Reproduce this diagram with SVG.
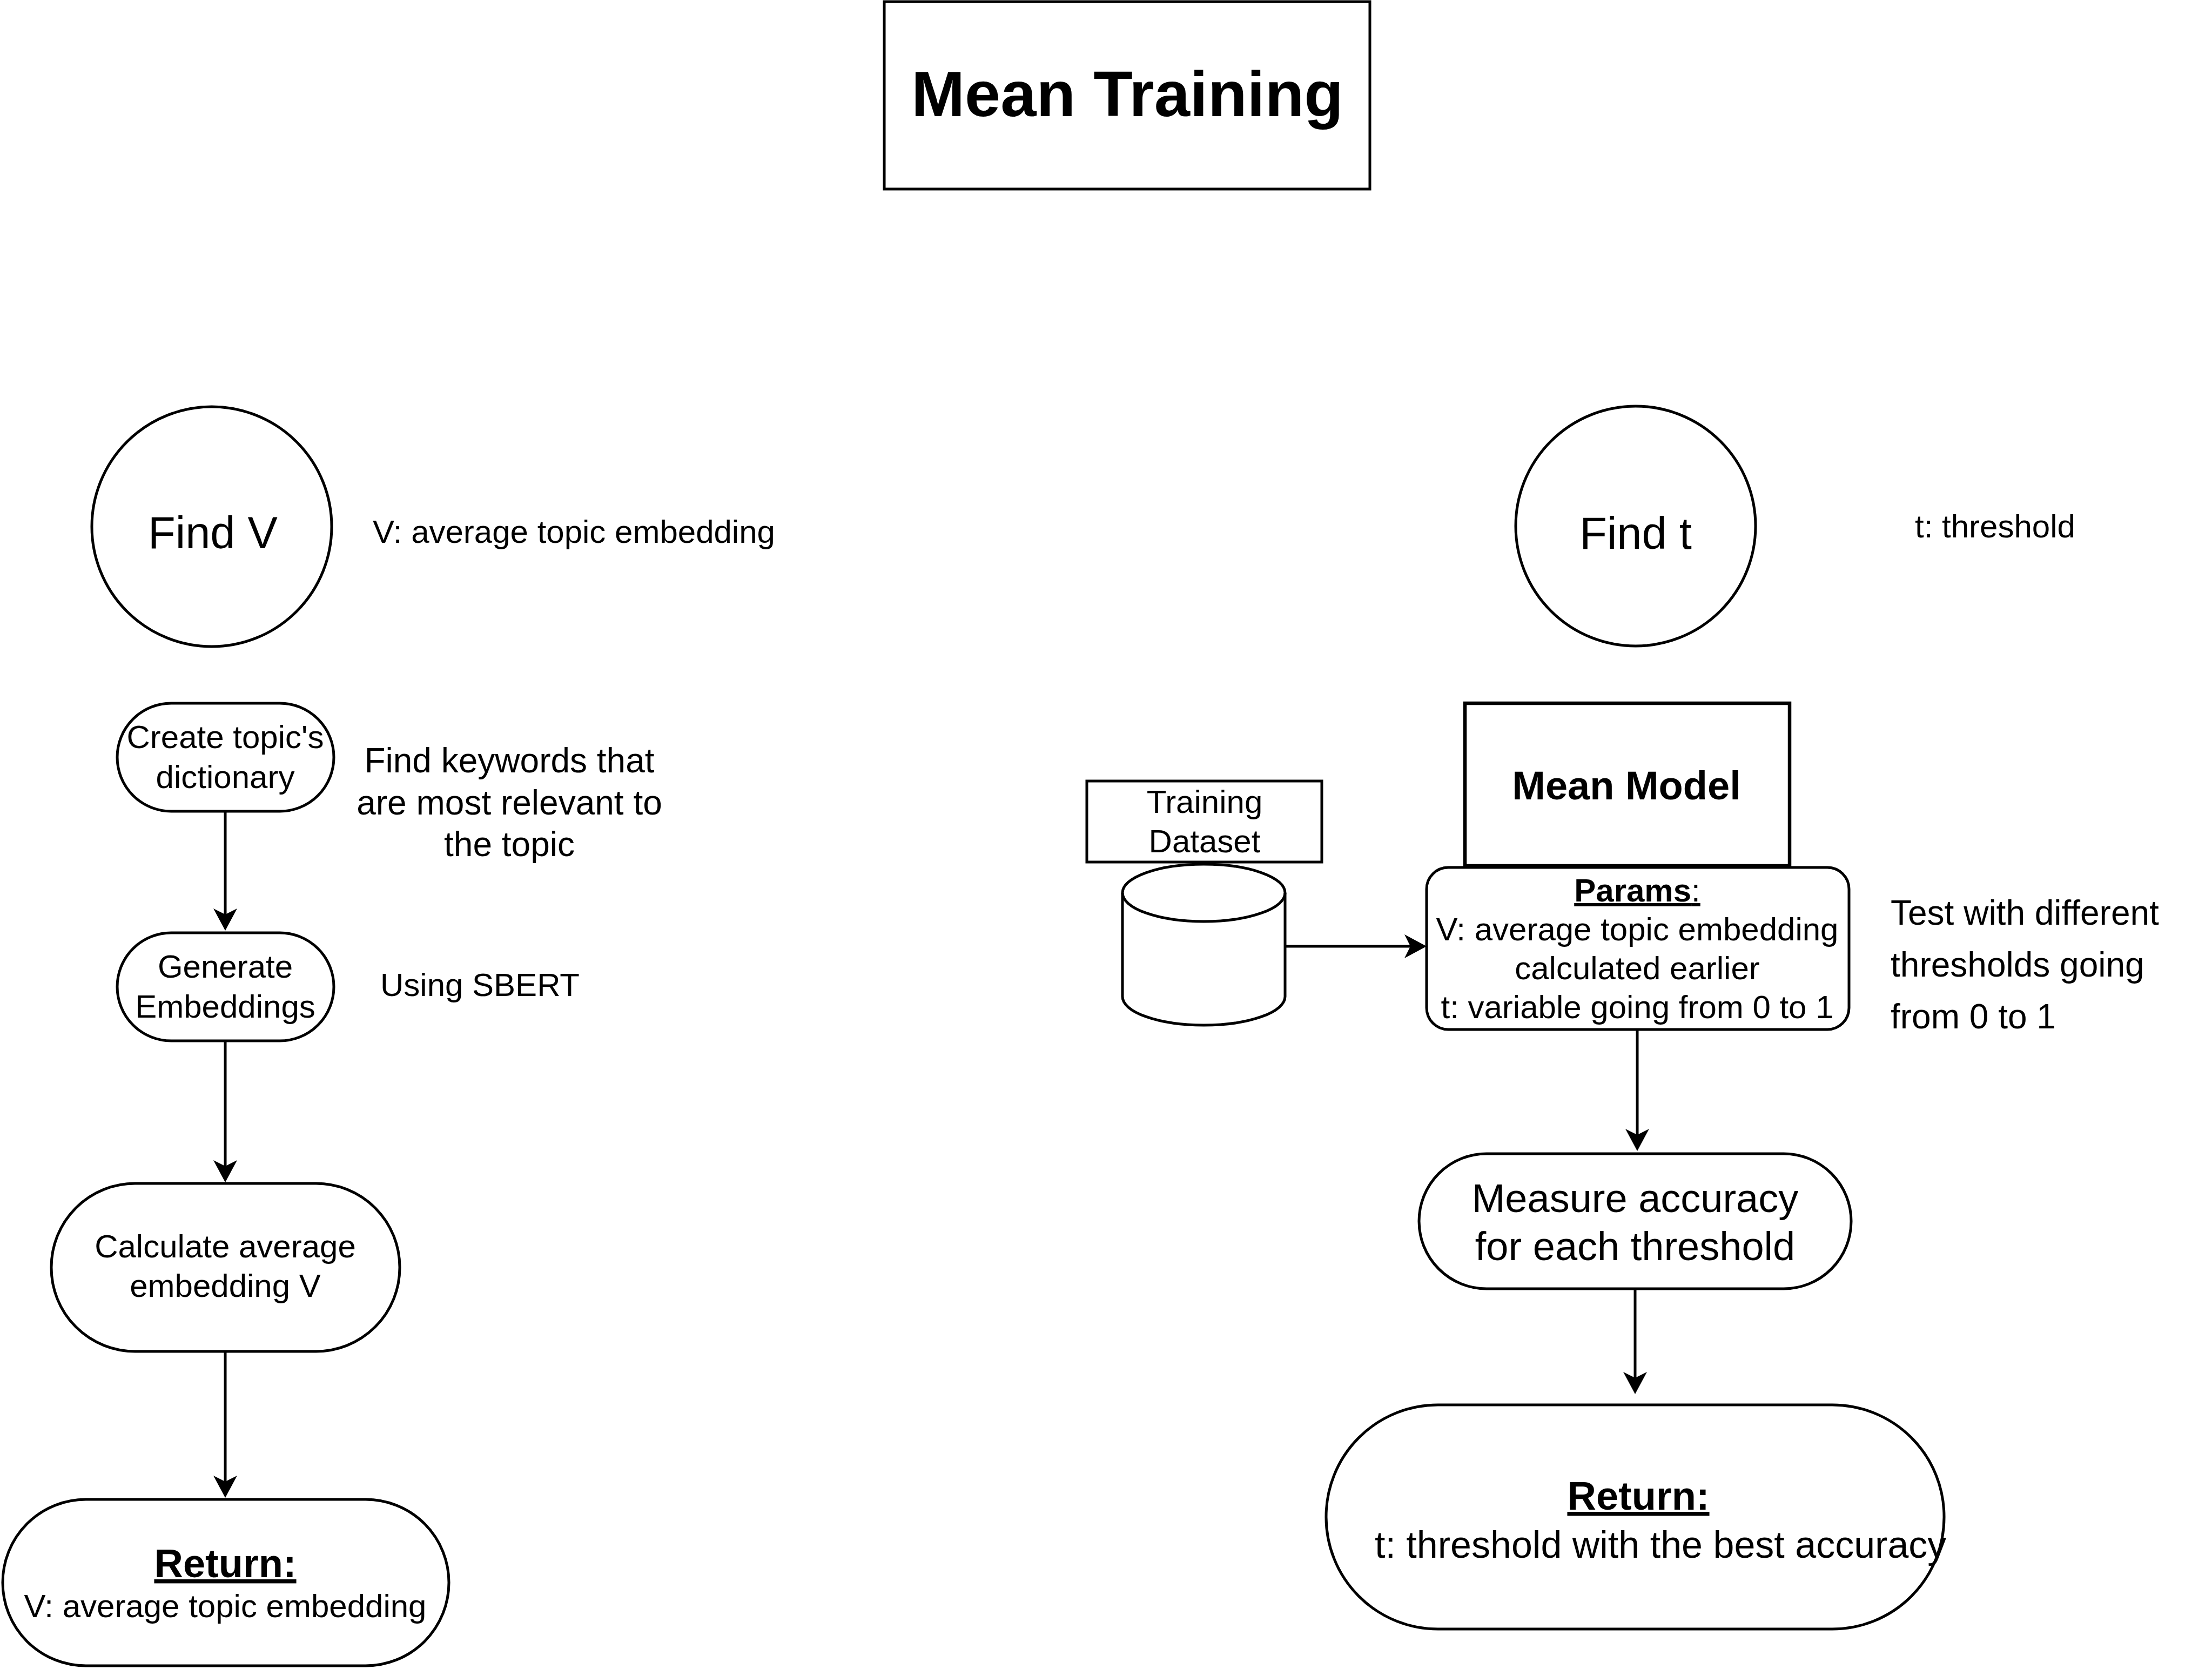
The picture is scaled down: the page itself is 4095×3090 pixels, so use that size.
<svg xmlns="http://www.w3.org/2000/svg" width="4095" height="3090" viewBox="0 0 4095 3090">
<defs>
<style>
text{font-family:"Liberation Sans",Arial,Helvetica,sans-serif;fill:#000}
.s{fill:#fff;stroke:#000;stroke-width:5}
.c{text-anchor:middle}
.b{font-weight:bold}
.u{text-decoration:underline}
.f60{font-size:60px}
.f64{font-size:64px}
.f74{font-size:74px}
.f83{font-size:83px}
.edge{fill:none;stroke:#000;stroke-width:5}
</style>
<marker id="arr" markerUnits="userSpaceOnUse" markerWidth="42" markerHeight="44" viewBox="0 0 42 44" refX="11" refY="22" orient="auto">
<path d="M41,22 L0,0 L11,22 L0,44 Z" fill="#000"/>
</marker>
</defs>
<rect x="0" y="0" width="4095" height="3090" fill="#fff"/>

<g id="title">
<rect class="s" x="1637" y="3" width="899" height="347"/>
<text class="c b" x="2087" y="215" font-size="119">Mean Training</text>
</g>

<g id="find-v">
<circle class="s" cx="392" cy="975" r="222"/>
<text class="c f83" x="394" y="1015">Find V</text>
</g>
<g id="label-v">
<text class="f60" x="690" y="1005">V: average topic embedding</text>
</g>

<g id="create-dict">
<rect class="s" x="217" y="1302" width="401" height="200" rx="100"/>
<text class="c f60" x="417" y="1385">Create topic's</text>
<text class="c f60" x="417" y="1459">dictionary</text>
</g>
<g id="label-keywords">
<text class="c f64" x="943" y="1430">Find keywords that</text>
<text class="c f64" x="943" y="1508">are most relevant to</text>
<text class="c f64" x="943" y="1585">the topic</text>
</g>

<g id="generate-emb">
<rect class="s" x="217" y="1727" width="401" height="200" rx="100"/>
<text class="c f60" x="417" y="1810">Generate</text>
<text class="c f60" x="417" y="1884">Embeddings</text>
</g>
<g id="label-sbert">
<text class="f60" x="704" y="1844">Using SBERT</text>
</g>

<g id="calc-avg">
<rect class="s" x="95" y="2191" width="645" height="311" rx="155"/>
<text class="c f60" x="417" y="2328">Calculate average</text>
<text class="c f60" x="417" y="2401">embedding V</text>
</g>

<g id="return-v">
<rect class="s" x="5" y="2776" width="826" height="308" rx="154"/>
<text class="c b u f74" x="417" y="2920">Return:</text>
<text class="c f60" x="417" y="2994">V: average topic embedding</text>
</g>

<g id="find-t">
<circle class="s" cx="3028" cy="974" r="222"/>
<text class="c f83" x="3028" y="1016">Find t</text>
</g>
<g id="label-t">
<text class="f60" x="3545" y="995">t: threshold</text>
</g>

<g id="mean-model">
<rect class="s" x="2712" y="1302" width="601" height="301" style="stroke-width:6.5"/>
<text class="c b f74" x="3011" y="1480">Mean Model</text>
</g>

<g id="params">
<rect class="s" x="2641" y="1606" width="782" height="300" rx="40"/>
<text class="c f60" x="3031" y="1669"><tspan class="b u">Params</tspan><tspan class="u">:</tspan></text>
<text class="c f60" x="3031" y="1741">V: average topic embedding</text>
<text class="c f60" x="3031" y="1813">calculated earlier</text>
<text class="c f60" x="3031" y="1885">t: variable going from 0 to 1</text>
</g>

<g id="training-label">
<rect class="s" x="2012" y="1446" width="435" height="150"/>
<text class="c f60" x="2230" y="1505">Training</text>
<text class="c f60" x="2230" y="1578">Dataset</text>
</g>

<g id="training-dataset">
<path class="s" d="M2078,1653 A150.5,53 0 0 1 2379,1653 L2379,1845 A150.5,53 0 0 1 2078,1845 Z"/>
<path class="s" style="fill:none" d="M2078,1653 A150.5,53 0 0 0 2379,1653"/>
</g>

<g id="label-test">
<text class="f64" x="3500" y="1712">Test with different</text>
<text class="f64" x="3500" y="1808">thresholds going</text>
<text class="f64" x="3500" y="1904">from 0 to 1</text>
</g>

<g id="measure">
<rect class="s" x="2627" y="2136" width="800" height="250" rx="125"/>
<text class="c f74" x="3027" y="2244">Measure accuracy</text>
<text class="c f74" x="3027" y="2333">for each threshold</text>
</g>

<g id="return-t">
<rect class="s" x="2455" y="2601" width="1144" height="415" rx="207"/>
<text class="c b u f74" x="3033" y="2795">Return:</text>
<text x="2545" y="2884" font-size="70">t: threshold with the best accuracy</text>
</g>

<g id="connectors">
<path class="edge" d="M417,1502 L417,1693" marker-end="url(#arr)"/>
<path class="edge" d="M417,1927 L417,2159" marker-end="url(#arr)"/>
<path class="edge" d="M417,2502 L417,2743" marker-end="url(#arr)"/>
<path class="edge" d="M2379,1752 L2611,1752" marker-end="url(#arr)"/>
<path class="edge" d="M3031,1906 L3031,2101" marker-end="url(#arr)"/>
<path class="edge" d="M3027,2386 L3027,2551" marker-end="url(#arr)"/>
</g>
</svg>
